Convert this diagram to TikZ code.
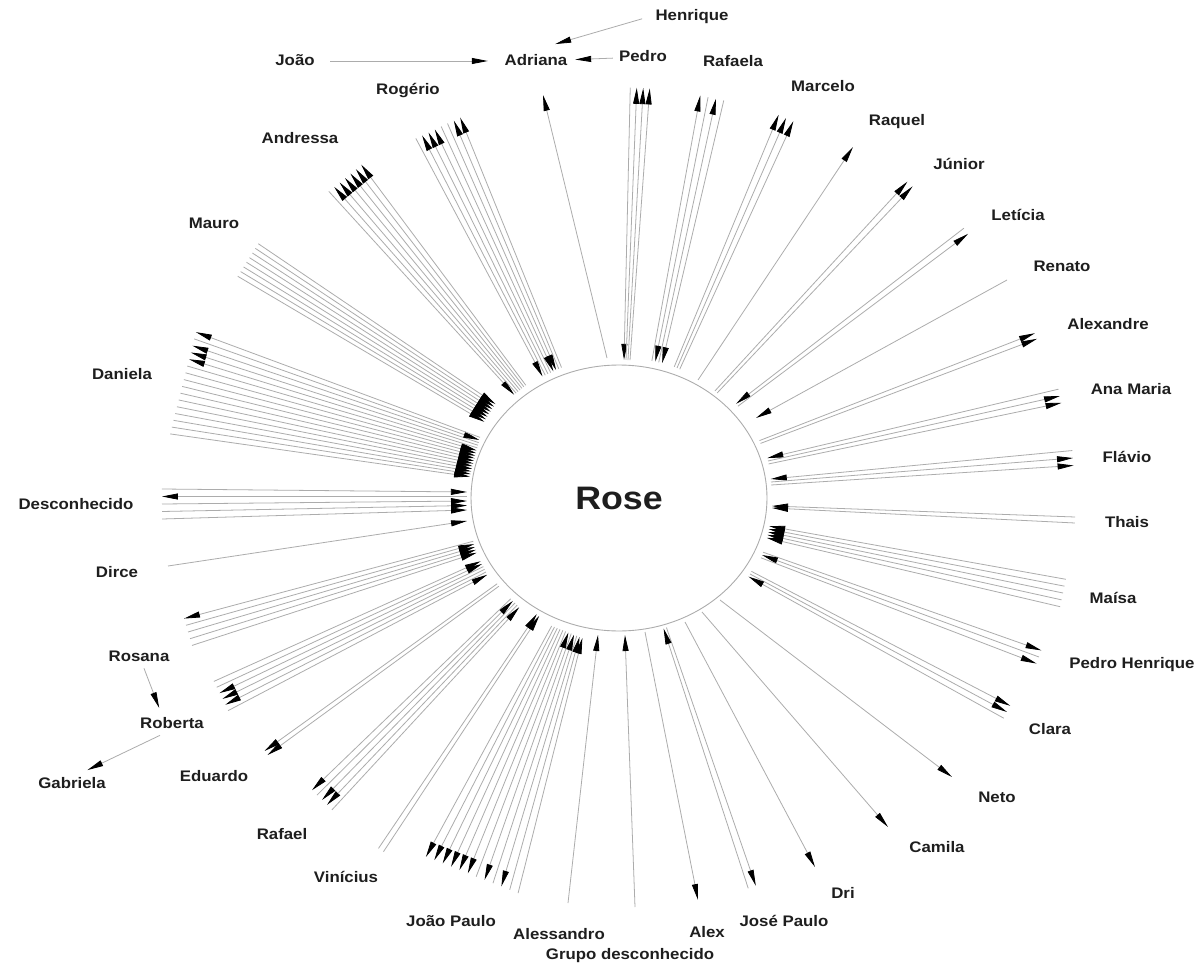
\documentclass[tikz,border=0pt]{standalone}
\usepackage{fontspec}
\usepackage{tikz}
\usetikzlibrary{arrows.meta,calc,shapes.geometric}
\newfontfamily\lblfont{Liberation Sans}[FakeStretch=1.1]
\definecolor{link_gray}{RGB}{172,172,172}
\definecolor{label_black}{RGB}{30,30,30}

\newcommand\spokes[7]{%
  \coordinate (#1-in) at (#2);
  \coordinate (#1-out) at (#3);
  \foreach \kind [count=\idx] in {#7} {
    \pgfmathsetmacro\shiftin{((#4+1)/2-\idx)*#5*0.02}
    \pgfmathsetmacro\shiftout{((#4+1)/2-\idx)*#6*0.02}
    \coordinate (#1-i\idx) at ($(#1-in)!\shiftin cm!90:(#1-out)$);
    \coordinate (#1-o\idx) at ($(#1-out)!\shiftout cm!-90:(#1-in)$);
    \draw[link,\kind] (#1-i\idx) -- (#1-o\idx);
  }%
}

\begin{document}
\begin{tikzpicture}[x=0.02cm, y=-0.02cm,
  link/.style={draw=link_gray, line width=0.45pt},
  toP/.style={-{Triangle[length=3.2mm,width=1.2mm,color=black]}},
  toR/.style={{Triangle[length=3.2mm,width=1.2mm,color=black]}-},
  lbl/.style={font=\lblfont\bfseries\fontsize{8.7}{10}\selectfont, text=label_black,
    inner sep=2pt, text height=7pt, text depth=1.5pt}]
\fill[white] (0,0) rectangle (1200,966);
\useasboundingbox (0,0) rectangle (1200,966);

\node[draw=link_gray, line width=0.5pt, ellipse, minimum width=5.92cm, minimum height=5.32cm,
  inner sep=0pt, text=label_black, font=\lblfont\bfseries\fontsize{18.5}{22}\selectfont] (rose) at (619,498) {Rose};

\node[lbl] (henrique) at (692,16) {Henrique};
\node[lbl] (joao) at (295,61) {João};
\node[lbl] (adriana) at (536,61) {Adriana};
\node[lbl] (pedro) at (643,57) {Pedro};
\node[lbl] (rafaela) at (733,62) {Rafaela};
\node[lbl] (rogerio) at (408,90) {Rogério};
\node[lbl] (marcelo) at (823,87) {Marcelo};
\node[lbl] (raquel) at (897,121) {Raquel};
\node[lbl] (andressa) at (300,139) {Andressa};
\node[lbl] (junior) at (959,165) {Júnior};
\node[lbl] (leticia) at (1018,216) {Letícia};
\node[lbl] (mauro) at (214,224) {Mauro};
\node[lbl] (renato) at (1062,267) {Renato};
\node[lbl] (alexandre) at (1108,325) {Alexandre};
\node[lbl] (daniela) at (122,375) {Daniela};
\node[lbl] (anamaria) at (1131,390) {Ana Maria};
\node[lbl] (flavio) at (1127,458) {Flávio};
\node[lbl] (desconhecido) at (76,505) {Desconhecido};
\node[lbl] (thais) at (1127,523) {Thais};
\node[lbl] (dirce) at (117,573) {Dirce};
\node[lbl] (maisa) at (1113,599) {Maísa};
\node[lbl] (rosana) at (139,657) {Rosana};
\node[lbl] (pedrohenrique) at (1132,664) {Pedro Henrique};
\node[lbl] (roberta) at (172,724) {Roberta};
\node[lbl] (clara) at (1050,730) {Clara};
\node[lbl] (eduardo) at (214,777) {Eduardo};
\node[lbl] (gabriela) at (72,784) {Gabriela};
\node[lbl] (neto) at (997,798) {Neto};
\node[lbl] (rafael) at (282,835) {Rafael};
\node[lbl] (camila) at (937,848) {Camila};
\node[lbl] (vinicius) at (346,878) {Vinícius};
\node[lbl] (dri) at (843,894) {Dri};
\node[lbl] (josepaulo) at (784,922) {José Paulo};
\node[lbl] (joaopaulo) at (451,922) {João Paulo};
\node[lbl] (alex) at (707,933) {Alex};
\node[lbl] (alessandro) at (559,935) {Alessandro};
\node[lbl] (grupo) at (630,955) {Grupo desconhecido};

\draw[link,toP,shorten <=0.24cm,shorten >=0.26cm] (joao) -- (adriana);
\draw[link,toP,shorten <=0.05cm,shorten >=0.08cm] (pedro) -- (adriana);
\draw[link,toP,shorten <=0.2cm,shorten >=0.4cm] (henrique.west) -- (adriana.north);
\draw[link,toP,shorten >=0.1cm] ([xshift=0.1cm]rosana.south) -- ([xshift=-0.22cm]roberta.north);
\draw[link,toP,shorten >=0.12cm] ([xshift=-0.24cm]roberta.south) -- ([xshift=0.2cm]gabriela.north);

\spokes{adriana-b}{607,358}{543,95}{1}{3}{6}{toP}
\spokes{pedro-b}{627,360}{640,88}{4}{2}{6.5}{toR,toP,toP,toP}
\spokes{rafaela-b}{657,362}{712,98}{4}{3.5}{8}{toP,toR,toP,toR}
\spokes{marcelo-b}{677,368}{786,118}{3}{3}{8}{toP,toP,toP}
\spokes{raquel-b}{698,380}{853,147}{1}{3}{6}{toP}
\spokes{junior-b}{716,392}{910,184}{2}{3}{7}{toP,toP}
\spokes{leticia-b}{737,405}{966,231}{2}{3}{7}{toR,toP}
\spokes{renato-b}{756,418}{1007,280}{1}{3}{6}{toR}
\spokes{alexandre-b}{760,442}{1036,336}{2}{3}{6}{toP,toP}
\spokes{anamaria-b}{768,461}{1060,396}{3}{3}{7}{toR,toP,toP}
\spokes{flavio-b}{771,482}{1073,458}{3}{3}{7.5}{toR,toP,toP}
\spokes{thais-b}{772,507}{1075,520}{2}{2}{6}{toR,toR}
\spokes{maisa-b}{768,532}{1063,593}{5}{3}{7}{toR,toR,toR,toR,toR}
\spokes{pedrohenrique-b}{762,555}{1039,657}{3}{3}{7}{toP,toR,toP}
\spokes{clara-b}{750,574}{1007,712}{3}{3}{7}{toP,toP,toR}
\spokes{neto-b}{720,600}{952,777}{1}{3}{6}{toP}
\spokes{camila-b}{702,612}{888,827}{1}{3}{6}{toP}
\spokes{dri-b}{685,622}{815,867}{1}{3}{6}{toP}
\spokes{josepaulo-b}{665,628}{752,887}{2}{3}{8}{toP,toR}
\spokes{alex-b}{645,632}{698,900}{1}{3}{6}{toP}
\spokes{grupo-b}{625,635}{635,907}{1}{3}{6}{toR}
\spokes{alessandro-b}{598,635}{568,903}{1}{3}{6}{toR}
\spokes{joaopaulo-b}{567,632}{472,875}{12}{3}{9}{toR,toR,toP,toR,toP,toR,toP,toP,toP,toP,toP,toP}
\spokes{vinicius-b}{538,615}{381,850}{2}{3}{6}{toR,toR}
\spokes{rafael-b}{515,603}{322,800}{5}{3}{7}{toR,toP,toP,toR,toP}
\spokes{eduardo-b}{498,585}{266,753}{2}{3}{5}{toP,toP}
\spokes{roberta-b}{484,568}{221,696}{6}{3}{6.5}{toR,toP,toP,toP,toR,toR}
\spokes{rosana-b}{475,547}{188,632}{5}{3}{7}{toR,toR,toR,toR,toP}
\spokes{dirce-b}{467,521}{168,566}{1}{3}{6}{toR}
\spokes{desconhecido-b}{467,501}{162,504}{5}{4.5}{7.5}{toR,toR,toR,toP,toR}
\spokes{daniela-b}{475,457}{183,383}{16}{2.7}{7}{toR,toR,toR,toR,toR,toR,toR,toR,toR,toR,toR,toP,toP,toP,toR,toP}
\spokes{mauro-b}{490,413}{248,260}{8}{3}{5.5}{toR,toR,toR,toR,toR,toR,toR,toR}
\spokes{andressa-b}{520,390}{345,178}{7}{2.5}{7}{toR,toP,toP,toP,toP,toP,toP}
\spokes{rogerio-b}{552,372}{438,128}{8}{3}{7}{toR,toP,toP,toP,toR,toR,toP,toP}

\end{tikzpicture}
\end{document}
